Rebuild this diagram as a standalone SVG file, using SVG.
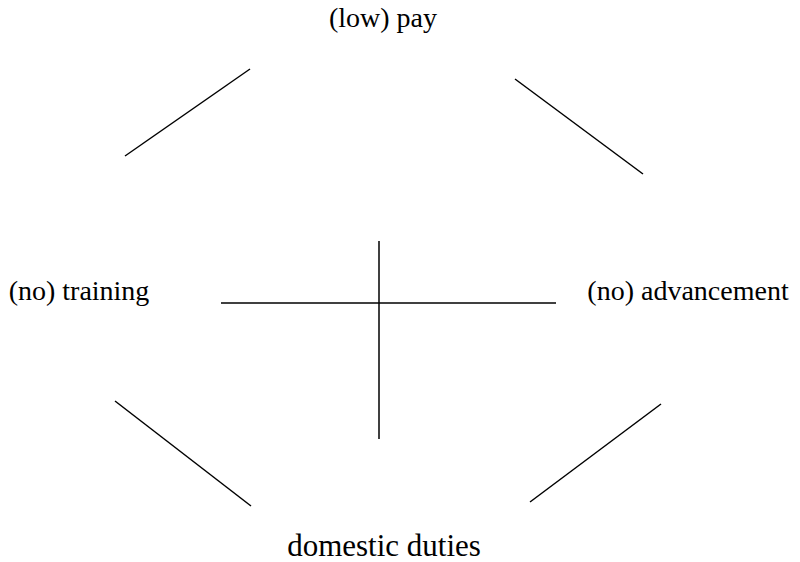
<svg xmlns="http://www.w3.org/2000/svg" width="800" height="562" viewBox="0 0 800 562">
<rect width="800" height="562" fill="#fff"/>
<g id="pay"><text x="383" y="27" font-family="Liberation Serif" font-size="28" text-anchor="middle" style="font-family:'Liberation Serif'">(low) pay</text></g>
<g id="training"><text x="79" y="300" font-family="Liberation Serif" font-size="28" text-anchor="middle" style="font-family:'Liberation Serif'">(no) training</text></g>
<g id="advancement"><text x="688" y="300" font-family="Liberation Serif" font-size="28" text-anchor="middle" style="font-family:'Liberation Serif'">(no) advancement</text></g>
<g id="duties"><text x="384" y="556" font-family="Liberation Serif" font-size="31" text-anchor="middle" style="font-family:'Liberation Serif'">domestic duties</text></g>
<g id="connectors" stroke="#000" stroke-width="1.5" fill="none">
<line x1="250" y1="69" x2="125" y2="156"/>
<line x1="515" y1="79" x2="643" y2="174"/>
<line x1="115" y1="401" x2="251" y2="506"/>
<line x1="661" y1="404" x2="530" y2="502"/>
<line x1="221" y1="303" x2="556" y2="303"/>
<line x1="379" y1="241" x2="379" y2="439"/>
</g>
</svg>
